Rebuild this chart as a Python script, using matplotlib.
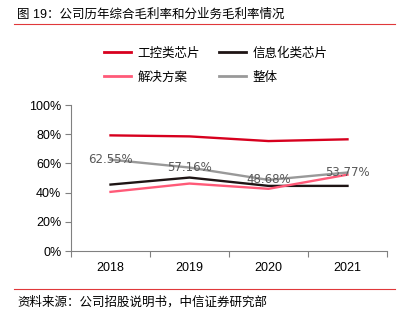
import matplotlib
matplotlib.use("Agg")
import matplotlib.pyplot as plt
from matplotlib.lines import Line2D

plt.rcParams['font.family'] = ['Liberation Sans', 'Noto Sans CJK SC', 'DejaVu Sans']

years = ["2018", "2019", "2020", "2021"]
industrial = [79.2, 78.5, 75.3, 76.5]      # 工控类芯片
infotech = [45.5, 50.3, 44.6, 44.6]        # 信息化类芯片
solutions = [40.5, 46.2, 42.6, 52.3]       # 解决方案
overall = [62.55, 57.16, 48.68, 53.77]     # 整体
yticks = [0, 20, 40, 60, 80, 100]

series = [
    ("工控类芯片", industrial, "#D7001E"),
    ("信息化类芯片", infotech, "#1E1414"),
    ("解决方案", solutions, "#FF5A78"),
    ("整体", overall, "#999999"),
]

W, H = 403, 321
fig = plt.figure(figsize=(W / 100, H / 100), dpi=100)

ax = fig.add_axes([71 / W, 1 - 251 / H, (387 - 71) / W, (251 - 105) / H])
x = list(range(len(years)))
lines = {}
for name, vals, col in series:
    lines[name], = ax.plot(x, vals, color=col, lw=1.7, solid_joinstyle="miter")

for xi, v in zip(x, overall):
    ax.text(xi, v, f"{v:.2f}%", ha="center", va="center", fontsize=8.5,
            color="#595959", family="DejaVu Sans")

ax.set_xlim(-0.5, len(years) - 0.5)
ax.set_ylim(0, 100)
ax.set_yticks(yticks)
ax.set_yticklabels([f"{t}%" for t in yticks], fontsize=9, color="#000000")
ax.set_xticks([i - 0.5 for i in range(len(years) + 1)])
ax.set_xticklabels([])
ax.set_xticks(x, minor=True)
ax.set_xticklabels(years, minor=True, fontsize=9)
ax.tick_params(axis="x", which="minor", length=0, pad=8)
ax.tick_params(axis="x", which="major", length=4, color="#808080", direction="out")
ax.tick_params(axis="y", length=4, color="#808080", direction="out", pad=3)
for s in ("top", "right"):
    ax.spines[s].set_visible(False)
for s in ("left", "bottom"):
    ax.spines[s].set_color("#808080")
    ax.spines[s].set_linewidth(0.8)

# legend filled row by row: matplotlib fills columns first, so interleave
order = ["工控类芯片", "解决方案", "信息化类芯片", "整体"]
handles = [Line2D([0], [0], color=lines[n].get_color(), lw=2) for n in order]
fig.legend(handles, order, ncol=2, loc="center", bbox_to_anchor=(0.535, 1 - 65.5 / H),
           frameon=False, fontsize=9, handlelength=2.2, handletextpad=0.5,
           columnspacing=1.5, labelspacing=0.95)

fig.text(17 / W, 1 - 15 / H, "图 19：公司历年综合毛利率和分业务毛利率情况",
         fontsize=9, va="center", ha="left", color="#000000")
fig.add_artist(Line2D([14 / W, 395 / W], [1 - 24 / H, 1 - 24 / H], color="#E0383A", lw=0.8))
fig.add_artist(Line2D([14 / W, 395 / W], [1 - 289 / H, 1 - 289 / H], color="#E0383A", lw=0.8))
fig.text(17 / W, 1 - 302 / H, "资料来源：公司招股说明书，中信证券研究部",
         fontsize=9, va="center", ha="left", color="#000000")

fig.savefig("out.png", dpi=100)
